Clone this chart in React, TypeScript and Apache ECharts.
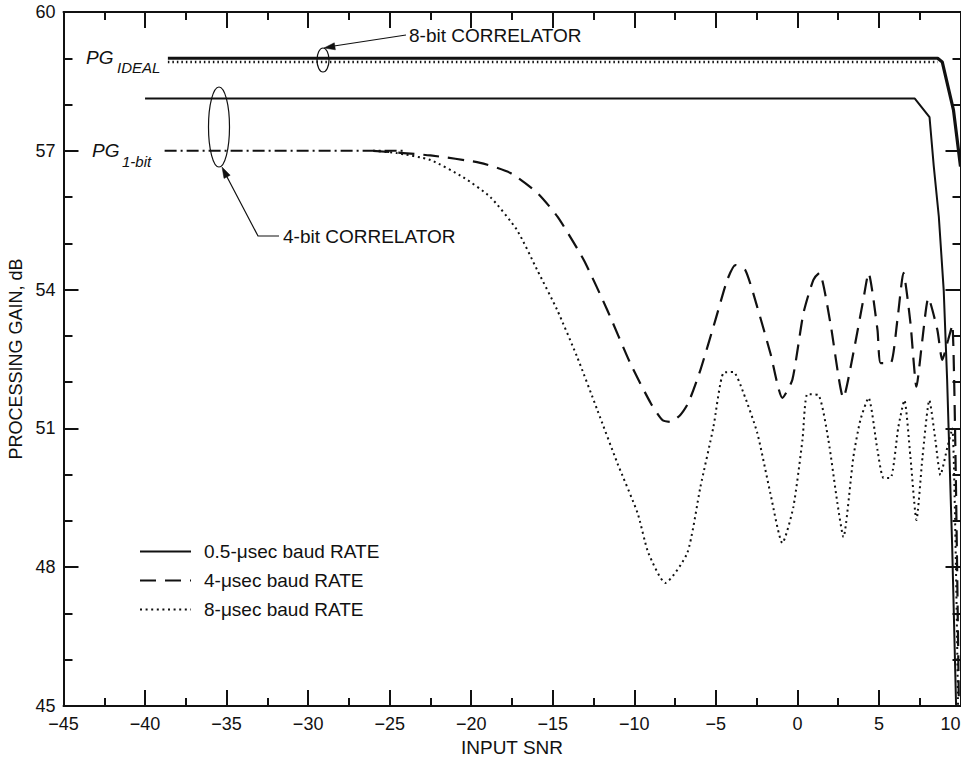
import React, { useEffect, useRef } from "react";
import * as echarts from "echarts";

// ---- Data ----
const ideal8bitX = [-38.6, 8.6, 8.88, 9.57, 10];
const ideal8bitY = [59.0, 59.0, 58.92, 57.88, 56.66];
const ideal8bitDotX = [-38.6, 8.6];
const ideal8bitDotY = [58.92, 58.92];

const halfUsX = [-40, 7.2, 8.1, 8.36, 8.67, 8.97, 9.18, 9.49, 9.73];
const halfUsY = [58.13, 58.13, 57.73, 56.67, 55.58, 53.99, 52.05, 48.44, 45.0];

const pg1bitX = [-38.8, -24];
const pg1bitY = [57.0, 57.0];

const fourUsX = [-26, -22.5, -19.45, -17.6, -15.95, -14.7, -13.1, -11.66, -10.25, -9.0, -8.28, -7.79, -7.18, -6.69, -5.95, -5.03, -4.3, -3.8, -3.19, -2.46, -1.66, -0.92, -0.31, 0.37, 0.98, 1.35, 2.02, 2.82, 3.43, 4.04, 4.36, 4.91, 5.1, 5.71, 6.13, 6.5, 6.93, 7.3, 7.66, 8.03, 8.58, 8.88, 9.24, 9.5, 9.9];
const fourUsY = [57.0, 56.9, 56.74, 56.52, 56.09, 55.57, 54.64, 53.56, 52.41, 51.55, 51.18, 51.14, 51.29, 51.55, 52.26, 53.34, 54.21, 54.53, 54.42, 53.62, 52.63, 51.66, 52.05, 53.49, 54.21, 54.36, 53.28, 51.66, 52.63, 53.78, 54.36, 53.13, 52.41, 52.41, 53.34, 54.36, 53.28, 51.9, 52.91, 53.82, 53.13, 52.48, 52.91, 53.24, 45.0];

const eightUsX = [-26, -24.55, -22.5, -20.5, -18.83, -17.2, -15.95, -14.73, -13.5, -12.27, -11.04, -9.8, -9.14, -8.1, -6.75, -5.95, -5.15, -4.54, -3.93, -3.31, -2.46, -1.66, -0.92, -0.25, 0.31, 0.61, 1.29, 1.9, 2.45, 2.82, 3.43, 3.86, 4.36, 4.91, 5.28, 5.71, 6.19, 6.56, 6.93, 7.3, 7.67, 8.09, 8.46, 8.77, 9.2, 9.5, 9.85];
const eightUsY = [57.0, 56.95, 56.8, 56.43, 56.0, 55.29, 54.42, 53.56, 52.54, 51.4, 50.25, 49.17, 48.31, 47.66, 48.31, 49.73, 51.03, 52.2, 52.22, 51.77, 50.9, 49.6, 48.52, 49.3, 50.75, 51.74, 51.72, 50.75, 49.39, 48.65, 50.38, 51.18, 51.66, 50.53, 49.93, 49.93, 51.03, 51.61, 50.38, 49.02, 50.38, 51.61, 50.75, 49.99, 50.6, 51.0, 45.0];

const legendNames = ["0.5-\u03bcsec baud RATE", "4-\u03bcsec baud RATE", "8-\u03bcsec baud RATE"];
const xLabelTitle = "INPUT SNR";
const yLabelTitle = "PROCESSING GAIN, dB";

const FONT = '"Liberation Sans", Arial, Helvetica, sans-serif';
const INK = "#111";

const pairs = (xs: number[], ys: number[]) => xs.map((x, i) => [x, ys[i]]);

export default function App() {
  const ref = useRef<HTMLDivElement>(null);
  useEffect(() => {
    if (!ref.current) return;
    const chart = echarts.init(ref.current, null, { renderer: "svg" });
    const axisCommon = {
      type: "value" as const,
      axisLine: { show: true, onZero: false, lineStyle: { color: INK, width: 2 } },
      splitLine: { show: false },
    };
    const lineSeries = (name: string, data: number[][], lineStyle: any, extra: any = {}) => ({
      type: "line",
      name,
      data,
      showSymbol: false,
      symbol: "none",
      lineStyle: { color: INK, ...lineStyle },
      itemStyle: { color: "rgba(0,0,0,0)" },
      animation: false,
      ...extra,
    });
    chart.setOption({
      animation: false,
      backgroundColor: "#fff",
      grid: { left: 63.5, right: 0.5, top: 12, bottom: 55, containLabel: false, outerBoundsMode: "none" },
      legend: {
        data: legendNames,
        orient: "vertical",
        left: 134,
        top: 537,
        itemWidth: 51,
        itemHeight: 16,
        itemGap: 10,
        selectedMode: false,
        itemStyle: { opacity: 0 },
        textStyle: { fontSize: 19, fontFamily: FONT, color: INK, padding: [0, 0, 0, 8] },
      },
      xAxis: [
        {
          ...axisCommon,
          position: "bottom",
          min: -45,
          max: 10,
          interval: 5,
          name: xLabelTitle,
          nameLocation: "middle",
          nameGap: 31,
          nameTextStyle: { fontSize: 19, fontFamily: FONT, color: INK },
          axisTick: { show: true, inside: true, length: 16, lineStyle: { color: INK, width: 2 } },
          minorTick: { show: true, splitNumber: 2, length: 8, lineStyle: { color: INK, width: 2 } },
          axisLabel: {
            fontSize: 18,
            fontFamily: FONT,
            color: INK,
            margin: 9,
            alignMaxLabel: "right",
            formatter: (v: number) => String(v).replace("-", "\u2212"),
          },
        },
        {
          ...axisCommon,
          position: "top",
          min: -45,
          max: 10,
          interval: 5,
          axisTick: { show: true, inside: true, length: 16, lineStyle: { color: INK, width: 2 } },
          minorTick: { show: true, splitNumber: 2, length: 8, lineStyle: { color: INK, width: 2 } },
          axisLabel: { show: false },
        },
      ],
      yAxis: [
        {
          ...axisCommon,
          position: "left",
          min: 45,
          max: 60,
          interval: 3,
          name: yLabelTitle,
          nameLocation: "middle",
          nameGap: 37,
          nameRotate: 90,
          nameTextStyle: { fontSize: 18, fontFamily: FONT, color: INK },
          axisTick: { show: true, inside: true, length: 15, lineStyle: { color: INK, width: 2 } },
          minorTick: { show: true, splitNumber: 3, length: 9, lineStyle: { color: INK, width: 2 } },
          axisLabel: { fontSize: 18, fontFamily: FONT, color: INK, margin: 8 },
        },
        {
          ...axisCommon,
          position: "right",
          min: 45,
          max: 60,
          interval: 3,
          axisTick: { show: true, inside: true, length: 15, lineStyle: { color: INK, width: 2 } },
          minorTick: { show: true, splitNumber: 3, length: 8, lineStyle: { color: INK, width: 2 } },
          axisLabel: { show: false },
        },
      ],
      series: [
        lineSeries("8-bit ideal", pairs(ideal8bitX, ideal8bitY), { width: 3.2 }),
        lineSeries("8-bit ideal dots", pairs(ideal8bitDotX, ideal8bitDotY), { width: 2.5, type: [1.5, 3] }),
        lineSeries(legendNames[0], pairs(halfUsX, halfUsY), { width: 2 }),
        lineSeries("PG 1-bit", pairs(pg1bitX, pg1bitY), { width: 2, type: [12, 4, 2, 4] }),
        lineSeries(legendNames[1], pairs(fourUsX, fourUsY), { width: 2.2, type: [16, 9] }, { smooth: 0.2 }),
        lineSeries(legendNames[2], pairs(eightUsX, eightUsY), { width: 2, type: [2, 3.6] }, { smooth: 0.2 }),
      ],
      graphic: [
        // PG_IDEAL label
        { type: "text", x: 86, y: 57, style: { text: "PG", font: `italic 19px ${FONT}`, fill: INK, verticalAlign: "middle", textVerticalAlign: "middle" } },
        { type: "text", x: 117, y: 67, style: { text: "IDEAL", font: `italic 15px ${FONT}`, fill: INK, verticalAlign: "middle", textVerticalAlign: "middle" } },
        // PG_1-bit label
        { type: "text", x: 92, y: 150, style: { text: "PG", font: `italic 19px ${FONT}`, fill: INK, verticalAlign: "middle", textVerticalAlign: "middle" } },
        { type: "text", x: 122, y: 161, style: { text: "1-bit", font: `italic 15px ${FONT}`, fill: INK, verticalAlign: "middle", textVerticalAlign: "middle" } },
        // 8-bit correlator annotation
        { type: "text", x: 409, y: 35, style: { text: "8-bit CORRELATOR", font: `19px ${FONT}`, fill: INK, verticalAlign: "middle", textVerticalAlign: "middle" } },
        { type: "polyline", shape: { points: [[406, 35], [334, 46]] }, style: { stroke: INK, lineWidth: 1.2, fill: "none" } },
        { type: "polygon", shape: { points: [[324, 48], [335.4, 49.8], [334.3, 42.8]] }, style: { fill: INK, stroke: INK, lineWidth: 0.5 } },
        { type: "ellipse", shape: { cx: 323, cy: 60, rx: 6, ry: 12 }, style: { stroke: INK, lineWidth: 1.2, fill: "none" } },
        // 4-bit correlator annotation
        { type: "text", x: 283, y: 236, style: { text: "4-bit CORRELATOR", font: `19px ${FONT}`, fill: INK, verticalAlign: "middle", textVerticalAlign: "middle" } },
        { type: "polyline", shape: { points: [[279, 236], [258, 236], [226, 175]] }, style: { stroke: INK, lineWidth: 1.2, fill: "none" } },
        { type: "polygon", shape: { points: [[222, 167], [230.2, 175.2], [224.0, 178.4]] }, style: { fill: INK, stroke: INK, lineWidth: 0.5 } },
        { type: "ellipse", shape: { cx: 219, cy: 127, rx: 10.5, ry: 40 }, style: { stroke: INK, lineWidth: 1.2, fill: "none" } },
      ],
    });
    return () => chart.dispose();
  }, []);
  return (
    <div
      ref={ref}
      style={{ position: "fixed", left: 0, top: 0, width: 961, height: 761, background: "#fff" }}
    />
  );
}
